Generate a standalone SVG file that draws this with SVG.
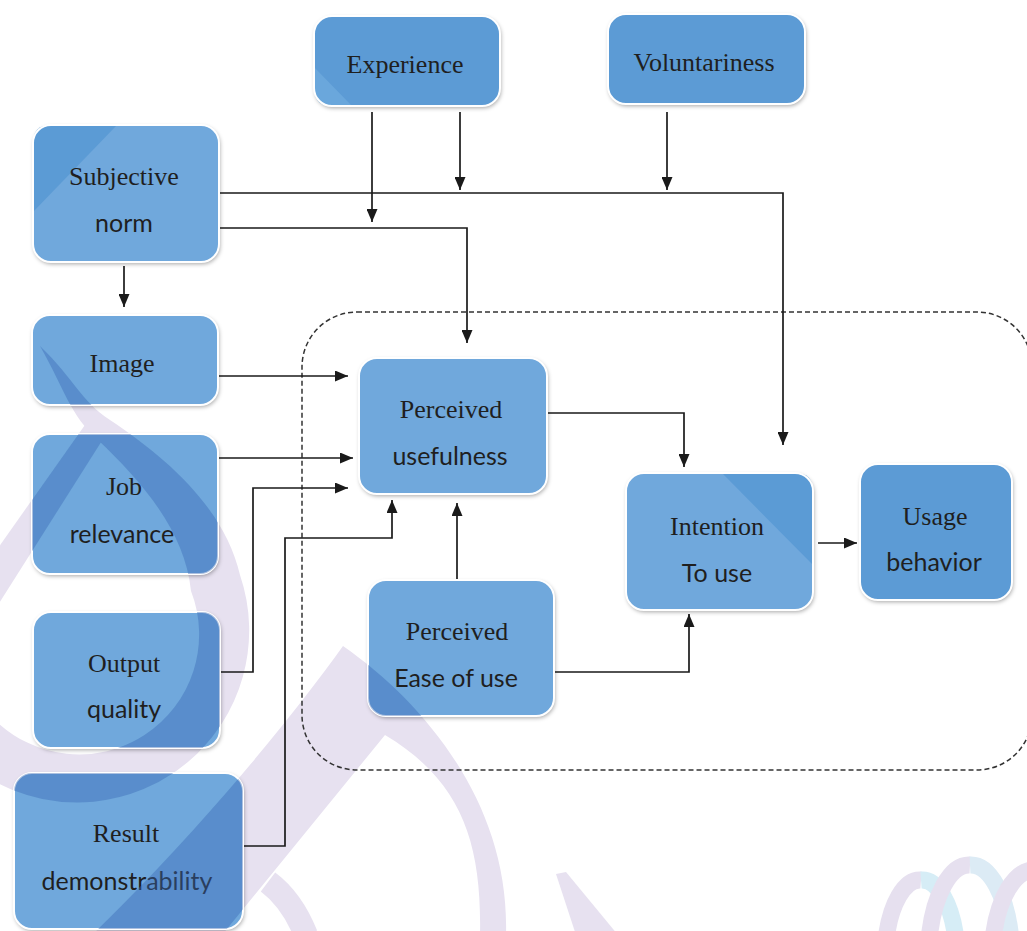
<svg xmlns="http://www.w3.org/2000/svg" xmlns:xlink="http://www.w3.org/1999/xlink" width="1027" height="931" viewBox="0 0 1027 931">
  <style>
    .fill { fill: #6fa8dc; }
    .fill.dark { fill: #5b9bd5; }
    .edge { fill: none; stroke: #ffffff; stroke-width: 2; }
    .tri { fill: #5b9bd5; }
    .tri.light { fill: #6aa7dc; }
    .serif { font-family: "Liberation Serif", "Times New Roman", serif; font-size: 26px; fill: #1f1f1f; text-anchor: middle; }
    .sans { font-family: Lato, "Liberation Sans", sans-serif; font-size: 25px; fill: #1f1f1f; text-anchor: middle; }
    .link { fill: none; stroke: #1a1a1a; stroke-width: 1.7; }
    .link.arrow { marker-end: url(#ah); }
    .frame { fill: none; stroke: #333333; stroke-width: 1.5; stroke-dasharray: 5 3; }
  </style>
  <defs>
    <filter id="sh" x="-10%" y="-10%" width="125%" height="130%">
      <feDropShadow dx="1" dy="2" stdDeviation="2.2" flood-color="#000000" flood-opacity="0.35"/>
    </filter>
    <marker id="ah" markerWidth="13" markerHeight="11" refX="13" refY="5.5" orient="auto" markerUnits="userSpaceOnUse">
      <path d="M0,0 L13,5.5 L0,11 Z" fill="#1a1a1a"/>
    </marker>
    <!-- background logo strokes, painted in currentColor -->
    <g id="wm">
      <path fill="currentColor" d="M40 346 C75 380 80 400 110 420 C170 460 225 510 240 575 A172 172 0 0 1 -6 781 L-6 719 A120 120 0 0 0 191 591 C185 530 140 480 98 440 C70 415 65 390 40 346 Z"/>
      <polygon fill="currentColor" points="-2,548 92,415 110,428 -2,605"/>
      <path fill="currentColor" d="M343 646 C420 700 510 800 506 935 L480 935 C482 840 460 780 385 735 L222 935 L92 935 C200 830 290 720 343 646 Z"/>
      <path fill="none" stroke="currentColor" stroke-width="24" d="M268 882 Q292 900 306 935"/>
      <polygon fill="currentColor" points="556,874 566,872 618,935 576,935"/>
    </g>
    <clipPath id="boxclip">
      <rect x="33" y="125" width="186" height="137" rx="18"/>
      <rect x="32" y="315" width="186" height="90" rx="18"/>
      <rect x="32" y="434" width="186" height="140" rx="18"/>
      <rect x="33" y="612" width="187" height="136" rx="18"/>
      <rect x="14" y="773" width="229" height="156" rx="18"/>
      <rect x="359" y="358" width="188" height="136" rx="18"/>
      <rect x="368" y="580" width="186" height="136" rx="18"/>
      <rect x="626" y="473" width="187" height="137" rx="18"/>
    </clipPath>
  </defs>

  <rect width="1027" height="931" fill="#ffffff"/>

  <!-- faint logo behind the chart -->
  <use xlink:href="#wm" style="color:#e7e1f0"/>
  <g id="rings" fill="none" stroke-width="17">
    <path d="M886 940 A35 80 0 0 1 921 880" stroke="#e6e0ef"/>
    <path d="M921 880 A35 80 0 0 1 956 940" stroke="#d6edf6"/>
    <path d="M929 940 A41 95 0 0 1 970 865" stroke="#e6e0ef"/>
    <path d="M970 865 A41 95 0 0 1 1011 940" stroke="#dcebf5"/>
    <path d="M993 940 A42 90 0 0 1 1035 870" stroke="#e6e0ef"/>
  </g>

  <!-- dashed boundary around the core constructs -->
  <rect class="frame" x="302" y="312" width="730" height="458" rx="55"/>

  <g id="connectors">
    <path class="link arrow" d="M219 193 H783 V445"/>
    <path class="link arrow" d="M219 228 H467 V343"/>
    <path class="link arrow" d="M372 112 V222"/>
    <path class="link arrow" d="M460 112 V190"/>
    <path class="link arrow" d="M667 112 V190"/>
    <path class="link arrow" d="M124 266 V307"/>
    <path class="link arrow" d="M218 376 H348"/>
    <path class="link arrow" d="M218 458 H353"/>
    <path class="link arrow" d="M220 672 H253 V488 H348"/>
    <path class="link arrow" d="M243 846 H285 V538 H392 V500"/>
    <path class="link arrow" d="M457 579 V503"/>
    <path class="link arrow" d="M547 413 H684 V467"/>
    <path class="link arrow" d="M554 672 H689 V614"/>
    <path class="link arrow" d="M818 543 H857"/>
  </g>

  <g id="experience">
    <rect class="fill dark" x="314" y="16" width="186" height="90" rx="18" filter="url(#sh)"/>
    <path class="tri light" d="M314 67 L314 88 Q314 106 332 106 L352 106 Z"/>
    <rect class="edge" x="314" y="16" width="186" height="90" rx="18"/>
    <text class="serif" x="405" y="73">Experience</text>
  </g>

  <g id="voluntariness">
    <rect class="fill dark" x="608" y="14" width="197" height="90" rx="18" filter="url(#sh)"/>
    <rect class="edge" x="608" y="14" width="197" height="90" rx="18"/>
    <text class="serif" x="704" y="71">Voluntariness</text>
  </g>

  <g id="subjective-norm">
    <rect class="fill" x="33" y="125" width="186" height="137" rx="18" filter="url(#sh)"/>
    <path class="tri" d="M33 212 L33 143 Q33 125 51 125 L117 125 Z"/>
    <rect class="edge" x="33" y="125" width="186" height="137" rx="18"/>
    <text class="serif" x="124" y="185">Subjective</text>
    <text class="sans" x="124" y="232">norm</text>
  </g>

  <g id="image">
    <rect class="fill" x="32" y="315" width="186" height="90" rx="18" filter="url(#sh)"/>
    <rect class="edge" x="32" y="315" width="186" height="90" rx="18"/>
    <text class="serif" x="122" y="372">Image</text>
  </g>

  <g id="job-relevance">
    <rect class="fill" x="32" y="434" width="186" height="140" rx="18" filter="url(#sh)"/>
    <rect class="edge" x="32" y="434" width="186" height="140" rx="18"/>
    <text class="serif" x="124" y="495">Job</text>
    <text class="sans" x="122" y="543">relevance</text>
  </g>

  <g id="output-quality">
    <rect class="fill" x="33" y="612" width="187" height="136" rx="18" filter="url(#sh)"/>
    <rect class="edge" x="33" y="612" width="187" height="136" rx="18"/>
    <text class="serif" x="124" y="672">Output</text>
    <text class="sans" x="124" y="718">quality</text>
  </g>

  <g id="result-demonstrability">
    <rect class="fill" x="14" y="773" width="229" height="156" rx="18" filter="url(#sh)"/>
    <rect class="edge" x="14" y="773" width="229" height="156" rx="18"/>
    <text class="serif" x="126" y="842">Result</text>
    <text class="sans" x="127" y="890">demonstrability</text>
  </g>

  <g id="perceived-usefulness">
    <rect class="fill" x="359" y="358" width="188" height="136" rx="18" filter="url(#sh)"/>
    <rect class="edge" x="359" y="358" width="188" height="136" rx="18"/>
    <text class="serif" x="451" y="418">Perceived</text>
    <text class="sans" x="450" y="465">usefulness</text>
  </g>

  <g id="perceived-ease-of-use">
    <rect class="fill" x="368" y="580" width="186" height="136" rx="18" filter="url(#sh)"/>
    <rect class="edge" x="368" y="580" width="186" height="136" rx="18"/>
    <text class="serif" x="457" y="640">Perceived</text>
    <text class="sans" x="456" y="687">Ease of use</text>
  </g>

  <g id="intention-to-use">
    <rect class="fill" x="626" y="473" width="187" height="137" rx="18" filter="url(#sh)"/>
    <path class="tri" d="M722 473 L795 473 Q813 473 813 491 L813 565 Z"/>
    <rect class="edge" x="626" y="473" width="187" height="137" rx="18"/>
    <text class="serif" x="717" y="535">Intention</text>
    <text class="sans" x="717" y="582">To use</text>
  </g>

  <g id="usage-behavior">
    <rect class="fill dark" x="860" y="464" width="152" height="136" rx="18" filter="url(#sh)"/>
    <rect class="edge" x="860" y="464" width="152" height="136" rx="18"/>
    <text class="serif" x="935" y="525">Usage</text>
    <text class="sans" x="934" y="571">behavior</text>
  </g>

  <!-- logo showing through the boxes -->
  <use xlink:href="#wm" clip-path="url(#boxclip)" style="color:#3a6ab5" opacity="0.42"/>
</svg>
